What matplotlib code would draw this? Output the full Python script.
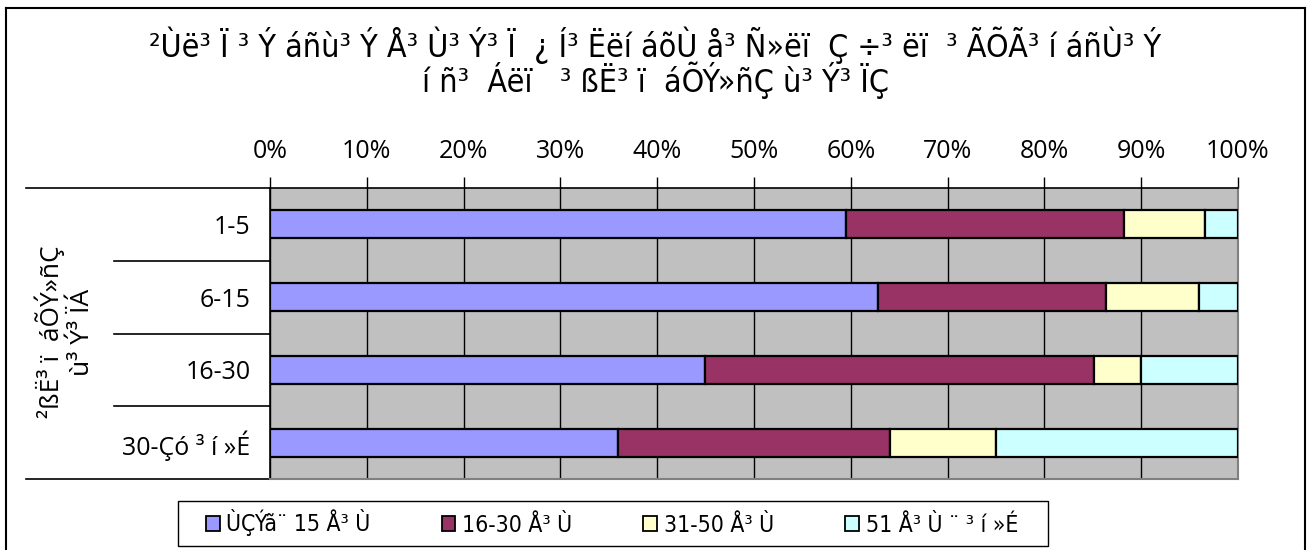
import matplotlib
matplotlib.use("Agg")
import matplotlib.pyplot as plt
from matplotlib import font_manager
from matplotlib.patches import Patch, Rectangle
from matplotlib.transforms import blended_transform_factory
from matplotlib.ticker import MultipleLocator, PercentFormatter

# ---- data ----
categories = ["1-5", "6-15", "16-30", "30-Çó ³ í »É"]
series_names = ["ÙÇÝã¨ 15 Å³ Ù", "16-30 Å³ Ù", "31-50 Å³ Ù", "51 Å³ Ù ¨ ³ í »É"]
under_15 = [59.5, 62.8, 44.9, 36.0]
from_16_30 = [28.7, 23.6, 40.2, 28.0]
from_31_50 = [8.4, 9.6, 4.9, 11.0]
over_51 = [3.4, 4.0, 10.0, 25.0]
series_values = [under_15, from_16_30, from_31_50, over_51]
series_colors = ["#9999FF", "#993366", "#FFFFCC", "#CCFFFF"]

title_lines = [
    "²Ùë³ Ï ³ Ý áñù³ Ý Å³ Ù³ Ý³ Ï  ¿ Í³ Ëëí áõÙ å³ Ñ»ëï  Ç ÷³ ëï  ³ ÃÕÃ³ í áñÙ³ Ý",
    "í ñ³  Áëï   ³ ßË³ ï  áÕÝ»ñÇ ù³ Ý³ ÏÇ",
]
group_label = "²ßË³ ï  áÕÝ»ñÇ\nù³ Ý³ ÏÁ"

available = {f.name for f in font_manager.fontManager.ttflist}
plain = "Open Sans" if "Open Sans" in available else "DejaVu Sans"
narrow = {"family": "DejaVu Sans", "stretch": "condensed"}

W, H = 1312, 550
fig = plt.figure(figsize=(W / 100, H / 100), dpi=100)
fig.patch.set_facecolor("white")

# plot area
left, right, top, bottom = 270, 1238, 188, 479
ax = fig.add_axes([left / W, 1 - bottom / H, (right - left) / W, (bottom - top) / H])
ax.set_facecolor("#C0C0C0")

ypos = list(range(len(categories)))
start = [0.0] * len(categories)
for vals, color, name in zip(series_values, series_colors, series_names):
    ax.barh(ypos, vals, left=start, height=0.385, color=color,
            edgecolor="black", linewidth=1.6, label=name, zorder=3)
    start = [s + v for s, v in zip(start, vals)]

ax.set_xlim(0, 100)
ax.set_ylim(len(categories) - 0.5, -0.5)
ax.xaxis.set_major_locator(MultipleLocator(10))
ax.xaxis.set_major_formatter(PercentFormatter(decimals=0))
ax.xaxis.tick_top()
ax.tick_params(axis="x", direction="out", length=8, width=1, color="black",
               pad=9, labelsize=18)
for lab in ax.get_xticklabels():
    lab.set_fontfamily(plain)
ax.grid(axis="x", color="black", linewidth=1.0, zorder=1)
ax.set_axisbelow(True)

ax.set_yticks(ypos)
ax.set_yticklabels(categories, fontfamily=plain, fontsize=18)
ax.tick_params(axis="y", length=0, pad=14)

for side in ("left", "top"):
    ax.spines[side].set_color("black")
    ax.spines[side].set_linewidth(1.2)
for side in ("right", "bottom"):
    ax.spines[side].set_color("#808080")
    ax.spines[side].set_linewidth(1.5)

# category separators extending into the label column
trans = blended_transform_factory(ax.transAxes, ax.transData)
outer_x = (26 - left) / (right - left)
inner_x = (114 - left) / (right - left)
for yb in (-0.5, len(categories) - 0.5):
    ax.plot([outer_x, 0], [yb, yb], color="black", linewidth=1.2,
            transform=trans, clip_on=False)
for yb in [i + 0.5 for i in range(len(categories) - 1)]:
    ax.plot([inner_x, 0], [yb, yb], color="black", linewidth=1.2,
            transform=trans, clip_on=False)

# titles
for txt, yy in zip(title_lines, (45, 80)):
    fig.text(655 / W, 1 - yy / H, txt, ha="center", va="center",
             fontsize=23, fontweight="normal", **narrow)
fig.text(65 / W, 1 - 332 / H, group_label, ha="center", va="center",
         rotation=90, fontsize=19, fontfamily=plain, linespacing=1.25,
         multialignment="center")

# legend
handles = [Patch(facecolor=c, edgecolor="black", linewidth=1.3) for c in series_colors]
leg = fig.legend(handles, series_names, loc="center",
                 bbox_to_anchor=(612 / W, 1 - 523 / H), ncol=4,
                 frameon=False,
                 prop={"family": "DejaVu Sans", "stretch": "condensed", "size": 16.5},
                 handlelength=0.6, handleheight=0.6, handletextpad=0.3,
                 columnspacing=3.1, borderpad=0.3, borderaxespad=0)
fig.add_artist(Rectangle((178 / W, 1 - 546 / H), 870 / W, 45 / H,
                         transform=fig.transFigure, facecolor="none",
                         edgecolor="black", linewidth=1.0))

# outer chart border
fig.add_artist(plt.Line2D([6 / W, 6 / W], [0, 1 - 8 / H], color="black", lw=1.5,
                          transform=fig.transFigure))
fig.add_artist(plt.Line2D([6 / W, 1305 / W], [1 - 8 / H, 1 - 8 / H], color="black",
                          lw=1.5, transform=fig.transFigure))
fig.add_artist(plt.Line2D([1305 / W, 1305 / W], [0, 1 - 8 / H], color="black", lw=1.5,
                          transform=fig.transFigure))

fig.savefig("out.png", dpi=100)
